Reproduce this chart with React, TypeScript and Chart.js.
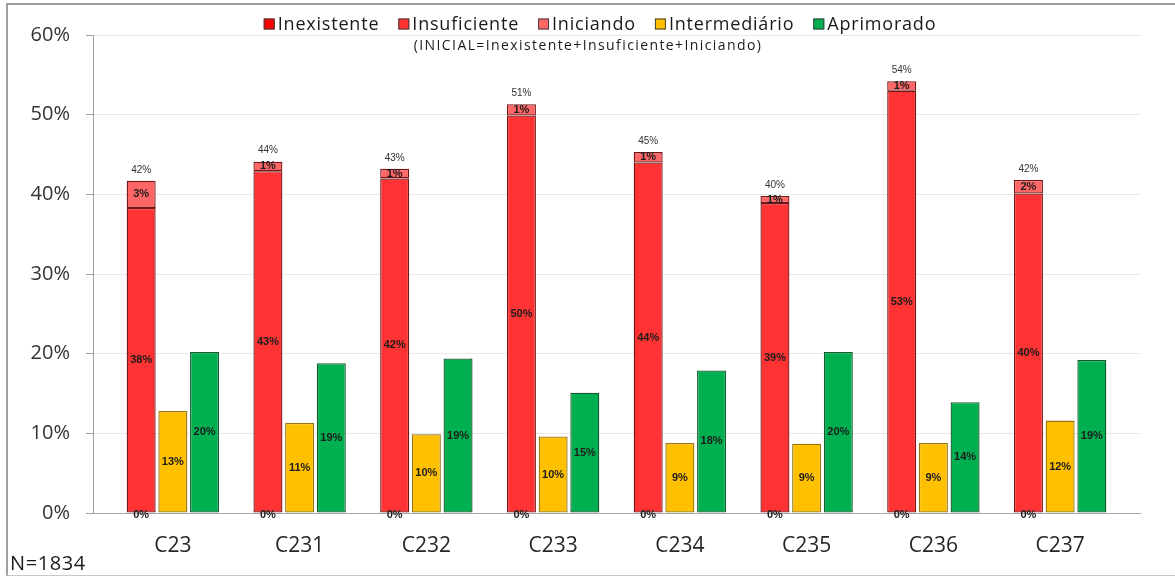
import React, { useEffect, useRef } from "react";
import { Chart, registerables } from "chart.js";

Chart.register(...registerables);

const categories = ["C23", "C231", "C232", "C233", "C234", "C235", "C236", "C237"];
const inexistente = [0, 0, 0, 0, 0, 0, 0, 0];
const insuficiente = [38.3, 42.9, 42.0, 49.9, 44.0, 38.9, 53.0, 40.1];
const iniciando = [3.4, 1.2, 1.2, 1.4, 1.3, 0.9, 1.2, 1.7];
const intermediario = [12.8, 11.3, 9.9, 9.6, 8.8, 8.7, 8.8, 11.6];
const aprimorado = [20.2, 18.8, 19.4, 15.1, 17.9, 20.2, 13.9, 19.2];
const seriesNames = ["Inexistente", "Insuficiente", "Iniciando", "Intermediário", "Aprimorado"];
const legendNote = "(INICIAL=Inexistente+Insuficiente+Iniciando)";
const sampleNote = "N=1834";
const yMax = 60;
const yStep = 10;

const legendColors = ["#FF0000", "#FF3333", "#FF6666", "#FFC000", "#00B050"];

const toPoints = (arr: number[]) => arr.map((y, i) => ({ x: i, y }));

const textPlugin = {
  id: "textPlugin",
  beforeDraw(chart: any) {
    const ctx = chart.ctx;
    ctx.save();
    ctx.fillStyle = "#ffffff";
    ctx.fillRect(0, 0, chart.width, chart.height);
    ctx.restore();
  },
  afterDatasetsDraw(chart: any) {
    const ctx = chart.ctx;
    ctx.save();
    ctx.textAlign = "center";
    ctx.textBaseline = "middle";
    chart.data.datasets.forEach((ds: any, di: number) => {
      const meta = chart.getDatasetMeta(di);
      meta.data.forEach((bar: any, i: number) => {
        const v = ds.data[i].y;
        const p = bar.getProps(["x", "y", "base"], true);
        ctx.font = 'bold 11px "Liberation Sans"';
        ctx.fillStyle = "#1c1c1c";
        const cy = v === 0 ? p.y + 2 : (p.y + p.base) / 2;
        ctx.fillText(Math.round(v) + "%", p.x, cy);
      });
    });
    const topMeta = chart.getDatasetMeta(2);
    const yScale = chart.scales.y;
    ctx.font = '10px "Liberation Sans"';
    ctx.fillStyle = "#333333";
    topMeta.data.forEach((bar: any, i: number) => {
      const total = inexistente[i] + insuficiente[i] + iniciando[i];
      const py = yScale.getPixelForValue(total) - 11;
      ctx.fillText(Math.round(total) + "%", bar.x, py);
    });
    ctx.restore();
  },
  afterDraw(chart: any) {
    const ctx = chart.ctx;
    ctx.save();
    // legend
    ctx.font = '18px "Open Sans"';
    (ctx as any).letterSpacing = "0.8px";
    ctx.textBaseline = "middle";
    ctx.textAlign = "left";
    const box = 11;
    const gapBox = 3;
    const gapItem = 19;
    const widths = seriesNames.map((n) => ctx.measureText(n).width);
    const total = widths.reduce((a, w) => a + box + gapBox + w, 0) + gapItem * (seriesNames.length - 1);
    let x = 600 - total / 2;
    const ly = 24;
    seriesNames.forEach((n, i) => {
      ctx.fillStyle = legendColors[i];
      ctx.fillRect(x, ly - 5.5, box, box);
      ctx.strokeStyle = "#404040";
      ctx.lineWidth = 1;
      ctx.strokeRect(x + 0.5, ly - 5.5 + 0.5, box - 1, box - 1);
      ctx.fillStyle = "#1a1a1a";
      ctx.fillText(n, x + box + gapBox, ly + 1);
      x += box + gapBox + widths[i] + gapItem;
    });
    ctx.font = '14px "Open Sans"';
    (ctx as any).letterSpacing = "1.4px";
    ctx.textAlign = "center";
    ctx.fillStyle = "#1a1a1a";
    ctx.fillText(legendNote, 588, 46);
    ctx.textAlign = "left";
    ctx.font = '20px "Open Sans"';
    (ctx as any).letterSpacing = "0.6px";
    ctx.fillText(sampleNote, 10, 564);
    (ctx as any).letterSpacing = "0px";
    // frame
    ctx.strokeStyle = "#A0A0A0";
    ctx.lineWidth = 2;
    ctx.beginPath();
    ctx.moveTo(7, 576);
    ctx.lineTo(7, 4);
    ctx.lineTo(1175, 4);
    ctx.stroke();
    ctx.strokeStyle = "#C8C8C8";
    ctx.lineWidth = 1;
    ctx.beginPath();
    ctx.moveTo(7, 575.5);
    ctx.lineTo(1175, 575.5);
    ctx.stroke();
    ctx.restore();
  },
};

export default function App() {
  const ref = useRef<HTMLCanvasElement | null>(null);
  useEffect(() => {
    if (!ref.current) return;
    const common = {
      borderWidth: 1.3,
      borderSkipped: false as const,
      inflateAmount: 0,
      categoryPercentage: 0.75,
      barPercentage: 0.915,
    };
    const chart = new Chart(ref.current, {
      type: "bar",
      data: {
        datasets: [
          { label: seriesNames[0], data: toPoints(inexistente), stack: "inicial", backgroundColor: "#FF0000", borderColor: "#741414", ...common },
          { label: seriesNames[1], data: toPoints(insuficiente), stack: "inicial", backgroundColor: "#FF3333", borderColor: "#741414", ...common },
          { label: seriesNames[2], data: toPoints(iniciando), stack: "inicial", backgroundColor: "#FF6666", borderColor: "#741414", ...common },
          { label: seriesNames[3], data: toPoints(intermediario), stack: "interm", backgroundColor: "#FFC000", borderColor: "#947412", ...common },
          { label: seriesNames[4], data: toPoints(aprimorado), stack: "aprim", backgroundColor: "#00B050", borderColor: "#14592D", ...common },
        ] as any,
      },
      options: {
        animation: false,
        responsive: false,
        maintainAspectRatio: false,
        layout: { padding: { top: 35, right: 35, left: 0, bottom: 0 } },
        plugins: { legend: { display: false }, tooltip: { enabled: false } },
        scales: {
          x: {
            type: "linear",
            min: -0.63,
            max: categories.length - 1 + 0.63,
            offset: false,
            grid: { display: false, drawTicks: false, offset: false },
            border: { display: true, color: "#A6A6A6", width: 1 },
            afterBuildTicks: (scale: any) => {
              scale.ticks = categories.map((_, i) => ({ value: i }));
            },
            afterFit: (scale: any) => {
              scale.height = 576 - 513;
            },
            ticks: {
              autoSkip: false,
              maxRotation: 0,
              padding: 20,
              color: "#262626",
              font: { family: "Open Sans", size: 21 },
              callback: (v: any) => categories[v] ?? "",
            },
          },
          y: {
            stacked: true,
            min: 0,
            max: yMax,
            afterFit: (scale: any) => {
              scale.width = 93;
            },
            grid: { color: "#E8E8E8", lineWidth: 1, tickColor: "#A0A0A0", tickLength: 7, drawTicks: true },
            border: { display: true, color: "#A0A0A0", width: 1 },
            ticks: {
              stepSize: yStep,
              padding: 16,
              color: "#333333",
              font: { family: "Open Sans", size: 20 },
              callback: (v: any) => v + "%",
            },
          },
        },
      } as any,
      plugins: [textPlugin],
    });
    return () => chart.destroy();
  }, []);
  return (
    <div style={{ position: "absolute", left: 0, top: 0, width: 1175, height: 576 }}>
      <canvas ref={ref} width={1175} height={576} style={{ display: "block" }} />
    </div>
  );
}
